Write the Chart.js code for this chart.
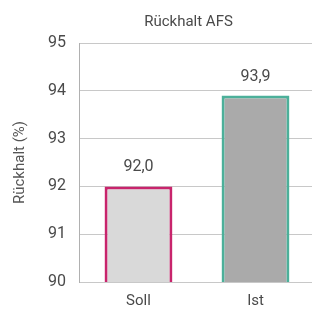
<!DOCTYPE html>
<html lang="de">
<head>
<meta charset="UTF-8">
<title>Rückhalt AFS</title>
<script src="https://cdn.jsdelivr.net/npm/chart.js@4.4.1/dist/chart.umd.min.js"></script>
<style>
  html, body { margin: 0; padding: 0; background: #fff; overflow: hidden; }
  #wrap { width: 312px; height: 309px; overflow: hidden; }
</style>
</head>
<body>
<div id="wrap"><canvas id="chart" width="374" height="320"></canvas></div>
<script>
const categories = ['Soll', 'Ist'];
const values = [92.0, 93.9];
const yTicks = [90, 91, 92, 93, 94, 95];
const fills = ['#d9d9d9', '#aaaaaa'];
const borders = ['#c8246c', '#4cb09a'];

// value labels above the bars, German decimal comma
const valueLabels = {
  id: 'valueLabels',
  afterDatasetsDraw(chart) {
    const ctx = chart.ctx;
    const meta = chart.getDatasetMeta(0);
    ctx.save();
    ctx.font = '16px Roboto';
    ctx.fillStyle = '#4a4a4a';
    ctx.textAlign = 'center';
    ctx.textBaseline = 'middle';
    meta.data.forEach((bar, i) => {
      ctx.fillText(values[i].toFixed(1).replace('.', ','), bar.x, bar.y - 19);
    });
    ctx.restore();
  }
};

// nudge the title box so the title sits a bit further right, as in the original
const titleShift = {
  id: 'titleShift',
  afterLayout(chart) {
    if (chart.titleBlock) chart.titleBlock.left += 52;
  }
};

new Chart(document.getElementById('chart'), {
  type: 'bar',
  data: {
    labels: categories,
    datasets: [{
      data: values,
      backgroundColor: fills,
      borderColor: borders,
      borderWidth: 3,
      borderSkipped: false,
      categoryPercentage: 1,
      barPercentage: 0.58
    }]
  },
  options: {
    responsive: false,
    animation: false,
    layout: { padding: { left: 11, right: 60, top: 0, bottom: 0 } },
    plugins: {
      legend: { display: false },
      tooltip: { enabled: false },
      title: {
        display: true,
        text: 'Rückhalt AFS',
        color: '#4a4a4a',
        font: { family: 'Roboto', size: 15, weight: 'normal' },
        padding: { top: 13, bottom: 12 }
      }
    },
    scales: {
      y: {
        min: 90,
        max: 95,
        afterBuildTicks(axis) { axis.ticks = yTicks.map(v => ({ value: v })); },
        grid: { color: '#c8c8c8', drawTicks: false },
        border: { color: '#b0b0b0' },
        ticks: { color: '#4a4a4a', padding: 14, font: { family: 'Roboto', size: 16 } },
        title: {
          display: true,
          text: 'Rückhalt (%)',
          color: '#555',
          font: { family: 'Roboto', size: 15 },
          padding: { top: 0, bottom: 5 }
        }
      },
      x: {
        grid: { display: false, drawTicks: false },
        border: { display: false },
        ticks: { color: '#4a4a4a', padding: 10, font: { family: 'Roboto', size: 15 } }
      }
    }
  },
  plugins: [valueLabels, titleShift]
});
</script>
</body>
</html>
